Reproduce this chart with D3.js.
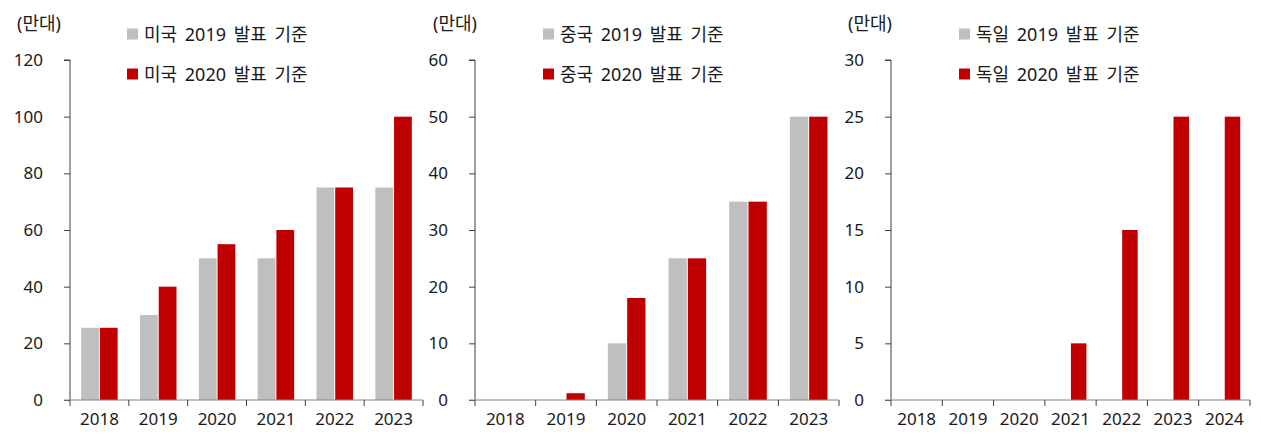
<!DOCTYPE html>
<html>
<head>
<meta charset="utf-8">
<script src="https://cdn.jsdelivr.net/npm/d3@7"></script>
<style>
    body { margin: 0; background: #fff; }
    svg { display: block; font-family: "Noto Sans", "Noto Sans CJK KR", sans-serif; }
</style>
</head>
<body>
<svg width="1261" height="443"></svg>
<script>
    // 데이터
    var usYears = ['2018', '2019', '2020', '2021', '2022', '2023'];
    var usPlan2019 = [25.5, 30, 50, 50, 75, 75];
    var usPlan2020 = [25.5, 40, 55, 60, 75, 100];

    var cnYears = ['2018', '2019', '2020', '2021', '2022', '2023'];
    var cnPlan2019 = [0, 0, 10, 25, 35, 50];
    var cnPlan2020 = [0, 1.2, 18, 25, 35, 50];

    var deYears = ['2018', '2019', '2020', '2021', '2022', '2023', '2024'];
    var dePlan2019 = [0, 0, 0, 0, 0, 0, 0];
    var dePlan2020 = [0, 0, 0, 5, 15, 25, 25];

    var usTicks = [0, 20, 40, 60, 80, 100, 120];
    var cnTicks = [0, 10, 20, 30, 40, 50, 60];
    var deTicks = [0, 5, 10, 15, 20, 25, 30];

    var unitLabel = '(만대)';
    var seriesNames = ['2019 발표 기준', '2020 발표 기준'];
    var countryNames = ['미국', '중국', '독일'];

    var gray = '#bfbfbf';
    var red = '#c00000';
    var textColor = '#1a1a1a';

    var svg = d3.select('svg');

    var panels = [
        { name: countryNames[0], years: usYears, a: usPlan2019, b: usPlan2020, ticks: usTicks, x0: 70, x1: 423, legendX: 127, unitX: 17 },
        { name: countryNames[1], years: cnYears, a: cnPlan2019, b: cnPlan2020, ticks: cnTicks, x0: 475, x1: 839, legendX: 543, unitX: 433 },
        { name: countryNames[2], years: deYears, a: dePlan2019, b: dePlan2020, ticks: deTicks, x0: 891, x1: 1250, legendX: 959, unitX: 848 }
    ];

    panels.forEach(drawPanel);

    function drawPanel(p) {
        var g = svg.append('g');
        var top = 60;
        var bottom = 400;

        var y = d3.scaleLinear()
            .domain([0, d3.max(p.ticks)])
            .range([bottom, top]);

        var x = d3.scaleBand()
            .domain(p.years)
            .range([p.x0, p.x1]);

        var groupW = x.bandwidth() * 0.62;
        var sub = d3.scaleBand()
            .domain([0, 1])
            .range([0, groupW])
            .paddingInner(0.05);

        var rows = p.years.map(function(year, i) {
            return { year: year, values: [p.a[i], p.b[i]] };
        });

        // 막대
        g.selectAll('g.year')
            .data(rows)
            .enter()
            .append('g')
            .attr('transform', function(d) {
                return 'translate(' + (x(d.year) + (x.bandwidth() - groupW) / 2) + ',0)';
            })
            .selectAll('rect')
            .data(function(d) { return d.values; })
            .enter()
            .append('rect')
            .attr('x', function(d, i) { return sub(i); })
            .attr('width', sub.bandwidth())
            .attr('y', function(d) { return y(d); })
            .attr('height', function(d) { return bottom - y(d); })
            .attr('fill', function(d, i) { return i === 0 ? gray : red; });

        // y축
        var yAxis = g.append('g')
            .attr('transform', 'translate(' + p.x0 + ',0)')
            .call(d3.axisLeft(y).tickValues(p.ticks).tickSize(6).tickPadding(21));
        yAxis.select('.domain').attr('stroke', '#404040').attr('d', 'M-6,' + top + 'H0V' + bottom);
        yAxis.selectAll('.tick line').attr('stroke', '#404040');
        yAxis.selectAll('.tick text')
            .attr('fill', textColor)
            .style('font-size', '17px')
            .style('font-family', '"Noto Sans", sans-serif');

        // x축
        var xAxis = g.append('g')
            .attr('transform', 'translate(0,' + bottom + ')')
            .call(d3.axisBottom(x).tickSize(0).tickPadding(13));
        xAxis.select('.domain').attr('stroke', '#868686').attr('d', 'M' + (p.x0 - 6) + ',0H' + p.x1);
        xAxis.selectAll('.tick text')
            .attr('fill', textColor)
            .style('font-size', '17px')
            .style('font-family', '"Noto Sans", sans-serif');

        var bounds = p.years.map(function(d) { return x(d); }).concat([p.x1]);
        g.selectAll('line.xtick')
            .data(bounds)
            .enter()
            .append('line')
            .attr('x1', function(d) { return d; })
            .attr('x2', function(d) { return d; })
            .attr('y1', bottom)
            .attr('y2', bottom + 6)
            .attr('stroke', '#404040');

        // 단위
        g.append('text')
            .attr('x', p.unitX)
            .attr('y', 30)
            .attr('fill', textColor)
            .style('font-size', '18px')
            .text(unitLabel);

        // 범례
        var legend = g.selectAll('g.legend')
            .data(seriesNames)
            .enter()
            .append('g')
            .attr('transform', function(d, i) {
                return 'translate(' + p.legendX + ',' + (34 + i * 40) + ')';
            });
        legend.append('rect')
            .attr('x', 0)
            .attr('y', -5.5)
            .attr('width', 11)
            .attr('height', 11)
            .attr('fill', function(d, i) { return i === 0 ? gray : red; });
        legend.append('text')
            .attr('x', 17)
            .attr('y', 6.5)
            .attr('fill', textColor)
            .style('font-size', '18px')
            .style('word-spacing', '3px')
            .text(function(d) { return p.name + ' ' + d; });
    }
</script>
</body>
</html>
